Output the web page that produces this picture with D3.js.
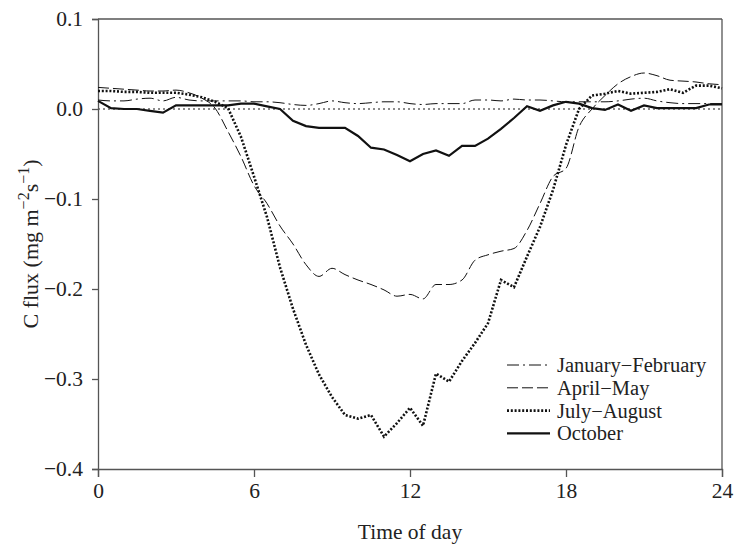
<!DOCTYPE html>
<html>
<head>
<meta charset="utf-8">
<script src="https://cdn.jsdelivr.net/npm/d3@7"></script>
<style>
  body { margin: 0; background: #fff; }
  text { font-family: "Liberation Serif", "Times New Roman", serif; fill: #222; }
  .axis path, .axis line { stroke: #555; stroke-width: 1.3; }
</style>
</head>
<body>
<div id="chart"></div>
<script>
// half-hourly time of day
var hours = d3.range(0, 24.01, 0.5);

var seriesNames = ['January\u2212February', 'April\u2212May', 'July\u2212August', 'October'];

var janFeb = [0.010, 0.009, 0.009, 0.011, 0.012, 0.009, 0.013, 0.010, 0.009, 0.009,
  0.009, 0.009, 0.008, 0.008, 0.007, 0.005, 0.004, 0.006, 0.009, 0.007,
  0.006, 0.007, 0.008, 0.008, 0.006, 0.005, 0.006, 0.006, 0.006, 0.010,
  0.010, 0.009, 0.011, 0.010, 0.010, 0.009, 0.008, 0.008, 0.008, 0.008,
  0.009, 0.011, 0.012, 0.009, 0.007, 0.006, 0.006, 0.006, 0.006];

var aprMay = [0.024, 0.023, 0.022, 0.021, 0.020, 0.020, 0.021, 0.018, 0.012, 0.001,
  -0.025, -0.053, -0.085, -0.105, -0.130, -0.150, -0.173, -0.186, -0.177, -0.184,
  -0.190, -0.195, -0.201, -0.208, -0.206, -0.211, -0.195, -0.195, -0.190, -0.168,
  -0.162, -0.158, -0.155, -0.135, -0.105, -0.075, -0.066, -0.020, 0.000, 0.015,
  0.028, 0.036, 0.040, 0.037, 0.032, 0.031, 0.030, 0.028, 0.027];

var julAug = [0.020, 0.020, 0.019, 0.019, 0.018, 0.018, 0.018, 0.016, 0.013, 0.008,
  0.001, -0.031, -0.075, -0.120, -0.176, -0.222, -0.262, -0.295, -0.320, -0.340,
  -0.344, -0.340, -0.364, -0.349, -0.332, -0.352, -0.294, -0.303, -0.280, -0.260,
  -0.238, -0.190, -0.198, -0.164, -0.131, -0.090, -0.040, 0.000, 0.015, 0.017,
  0.020, 0.017, 0.018, 0.019, 0.022, 0.018, 0.026, 0.026, 0.023];

var october = [0.009, 0.001, 0.000, 0.000, -0.002, -0.004, 0.004, 0.004, 0.004, 0.004,
  0.004, 0.006, 0.006, 0.003, 0.000, -0.013, -0.019, -0.021, -0.021, -0.021,
  -0.030, -0.043, -0.045, -0.051, -0.058, -0.050, -0.046, -0.052, -0.041, -0.041,
  -0.033, -0.022, -0.010, 0.003, -0.002, 0.004, 0.008, 0.006, 0.001, -0.001,
  0.005, -0.002, 0.004, 0.001, 0.001, 0.001, 0.001, 0.005, 0.005];

var xTicks = [0, 6, 12, 18, 24];
var yTicks = [0.1, 0.0, -0.1, -0.2, -0.3, -0.4];

var margin = {top: 19, right: 14, bottom: 75, left: 98};
var width = 736 - margin.left - margin.right;
var height = 544 - margin.top - margin.bottom;

var x = d3.scaleLinear().domain([0, 24]).range([0, width]);
var y = d3.scaleLinear().domain([-0.4, 0.1]).range([height, 0]);

var svg = d3.select('#chart').append('svg')
  .attr('width', 736)
  .attr('height', 544)
  .append('g')
  .attr('transform', 'translate(' + margin.left + ',' + margin.top + ')');

// frame on top and right
svg.append('line')
  .attr('x1', 0).attr('x2', width).attr('y1', 0).attr('y2', 0)
  .attr('stroke', '#555').attr('stroke-width', 1.3);
svg.append('line')
  .attr('x1', width).attr('x2', width).attr('y1', 0).attr('y2', height)
  .attr('stroke', '#555').attr('stroke-width', 1.3);

// zero reference
svg.append('line')
  .attr('x1', 0).attr('x2', width)
  .attr('y1', y(0)).attr('y2', y(0))
  .attr('stroke', '#666')
  .attr('stroke-width', 1.3)
  .attr('stroke-dasharray', '2,3');

var xAxis = svg.append('g')
  .attr('class', 'axis')
  .attr('transform', 'translate(0,' + height + ')')
  .call(d3.axisBottom(x).tickValues(xTicks).tickSize(8).tickPadding(6));
xAxis.selectAll('text').style('font-size', '21.5px');

var yAxis = svg.append('g')
  .attr('class', 'axis')
  .call(d3.axisLeft(y).tickValues(yTicks).tickSize(6).tickPadding(9)
    .tickFormat(function(d) { return d3.format('.1f')(d).replace('-', '\u2212'); }));
yAxis.selectAll('text').style('font-size', '21.5px');

var styles = [
  {data: janFeb, dash: '12,4,2,4', w: 1, curve: d3.curveMonotoneX},
  {data: aprMay, dash: '11,4', w: 1, curve: d3.curveMonotoneX},
  {data: julAug, dash: '2,1.8', w: 2.6, curve: d3.curveLinear},
  {data: october, dash: null, w: 2.2, curve: d3.curveLinear}
];

styles.forEach(function(s) {
  var line = d3.line()
    .x(function(d, i) { return x(hours[i]); })
    .y(function(d) { return y(d); })
    .curve(s.curve);
  svg.append('path')
    .datum(s.data)
    .attr('fill', 'none')
    .attr('stroke', '#111')
    .attr('stroke-width', s.w)
    .attr('stroke-dasharray', s.dash)
    .attr('d', line);
});

// legend
var legend = svg.append('g')
  .attr('transform', 'translate(' + (507 - margin.left) + ',' + (365 - margin.top) + ')');

seriesNames.forEach(function(name, i) {
  var s = styles[i];
  legend.append('line')
    .attr('x1', 0).attr('x2', 43)
    .attr('y1', i * 22.8).attr('y2', i * 22.8)
    .attr('stroke', '#111')
    .attr('stroke-width', s.w)
    .attr('stroke-dasharray', s.dash);
  legend.append('text')
    .attr('x', 50)
    .attr('y', i * 22.8 + 7)
    .style('font-size', '20.5px')
    .text(name);
});

// axis titles
svg.append('text')
  .attr('x', x(12))
  .attr('y', 539 - margin.top)
  .attr('text-anchor', 'middle')
  .style('font-size', '21.5px')
  .text('Time of day');

var yTitle = svg.append('text')
  .attr('transform', 'translate(' + (38 - margin.left) + ',' + (height / 2) + ') rotate(-90)')
  .attr('text-anchor', 'middle')
  .style('font-size', '22px');
yTitle.append('tspan').text('C flux (mg m');
yTitle.append('tspan').attr('dy', -9).style('font-size', '16px').text('\u22122');
yTitle.append('tspan').attr('dy', 9).text('s');
yTitle.append('tspan').attr('dy', -9).style('font-size', '16px').text('\u22121');
yTitle.append('tspan').attr('dy', 9).text(')');
</script>
</body>
</html>
